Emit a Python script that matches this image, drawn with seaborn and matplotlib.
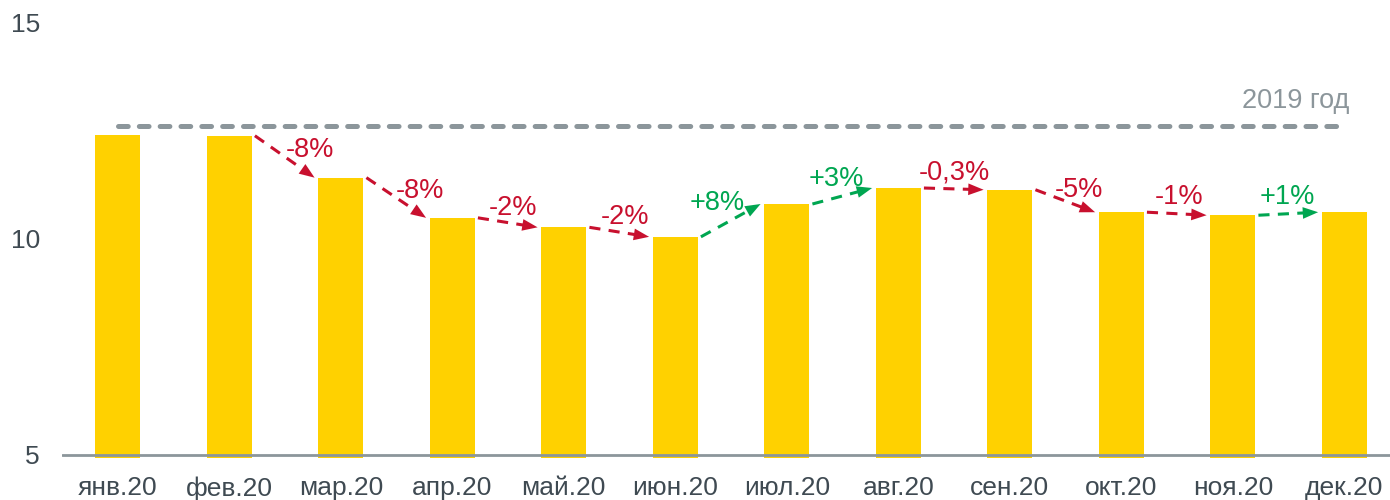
import matplotlib
matplotlib.use("Agg")
import matplotlib.pyplot as plt
import seaborn as sns
import pandas as pd

months = ["янв.20", "фев.20", "мар.20", "апр.20", "май.20", "июн.20",
          "июл.20", "авг.20", "сен.20", "окт.20", "ноя.20", "дек.20"]
values = [12.40, 12.39, 11.42, 10.49, 10.27, 10.05, 10.81, 11.18, 11.14, 10.62, 10.55, 10.62]
# month-over-month changes, starting with фев -> мар
changes = ["-8%", "-8%", "-2%", "-2%", "+8%", "+3%", "-0,3%", "-5%", "-1%", "+1%"]
baseline_2019 = 12.62
baseline_label = "2019 год"
yticks = [5, 10, 15]

BAR = "#FFD100"
RED = "#C8102E"
GREEN = "#00A651"
GREY = "#8C969B"
TXT = "#3F4A52"

sns.set_style("white")
plt.rcParams["font.family"] = ["Liberation Sans", "DejaVu Sans"]
plt.rcParams["lines.scale_dashes"] = False

df = pd.DataFrame({"month": months, "value": values})

fig = plt.figure(figsize=(13.9, 5.0), dpi=100)
ax = fig.add_axes([62 / 1390, 0.084, 1 - 62 / 1390, 0.87])

sns.barplot(data=df, x="month", y="value", color=BAR, width=0.4, ax=ax,
            saturation=1, edgecolor="none", zorder=2)

ax.set_xlim(-0.5, 11.41)
ax.set_ylim(4.93, 15)
ax.set_yticks(yticks)
ax.set_xlabel("")
ax.set_ylabel("")
for s in ax.spines.values():
    s.set_visible(False)
ax.axhline(5, color=GREY, lw=2, zorder=3)
ax.tick_params(axis="both", length=0, labelsize=19, colors=TXT)
ax.tick_params(axis="y", pad=16)
ax.tick_params(axis="x", pad=13)

# 2019 reference line
ax.hlines(baseline_2019, 0, 10.94, colors=GREY, lw=3.6, linestyles=(0, (7, 8)),
          capstyle="round", zorder=3)
ax.text(11.05, 13.2, baseline_label, ha="right", va="center", fontsize=19.5, color=GREY)

# arrows between bars
fig.canvas.draw()
half = 0.2
start = len(values) - 1 - len(changes)
for k, lab in enumerate(changes):
    i = start + k
    col = RED if lab.startswith("-") else GREEN
    x0, y0 = i + half + 0.03, values[i]
    x1, y1 = i + 1 - half - 0.035, values[i + 1]
    p0 = ax.transData.transform((x0, y0))
    p1 = ax.transData.transform((x1, y1))
    vx, vy = p1 - p0
    L = (vx ** 2 + vy ** 2) ** 0.5
    hl = 14.0
    pmx, pmy = p1[0] - (vx / L) * hl * 0.9, p1[1] - (vy / L) * hl * 0.9
    pm_data = ax.transData.inverted().transform((pmx, pmy))
    ax.plot([x0, pm_data[0]], [y0, pm_data[1]], color=col, lw=2.2,
            linestyle=(0, (8, 6)), zorder=4, dash_capstyle="butt")
    ax.annotate("", xy=(x1, y1), xytext=(pm_data[0], pm_data[1]),
                arrowprops=dict(arrowstyle="-|>,head_length=0.55,head_width=0.21",
                                mutation_scale=20, color=col, lw=0.01,
                                shrinkA=0, shrinkB=0), zorder=5)
    drop = (p0[1] - p1[1])  # positive when going down on screen
    dx = 0.6 * drop if drop > 0 else 0.4 * drop
    dy = 17 - 0.25 * max(drop, 0)
    mx, my = (x0 + x1) / 2, (y0 + y1) / 2
    ax.annotate(lab, xy=(mx, my), xytext=(dx / 1.389, dy / 1.389),
                textcoords="offset points", ha="center", va="center",
                fontsize=19.5, color=col, zorder=6)

fig.savefig("out.png", dpi=100)
